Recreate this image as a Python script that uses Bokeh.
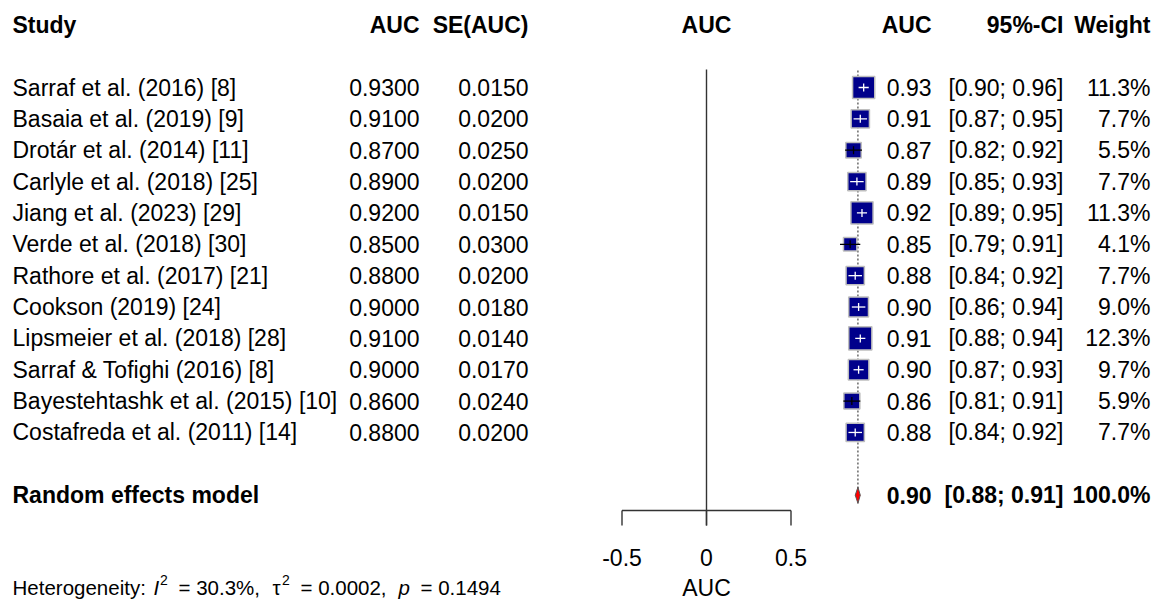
import numpy as np
from bokeh.plotting import figure
from bokeh.models import Range1d
from bokeh.core.properties import value
from bokeh.embed import file_html
from bokeh.resources import INLINE

# ---------------- data ----------------
studies = [
    "Sarraf et al. (2016) [8]",
    "Basaia et al. (2019) [9]",
    "Drotár et al. (2014) [11]",
    "Carlyle et al. (2018) [25]",
    "Jiang et al. (2023) [29]",
    "Verde et al. (2018) [30]",
    "Rathore et al. (2017) [21]",
    "Cookson (2019) [24]",
    "Lipsmeier et al. (2018) [28]",
    "Sarraf & Tofighi (2016) [8]",
    "Bayestehtashk et al. (2015) [10]",
    "Costafreda et al. (2011) [14]",
]
auc = [0.93, 0.91, 0.87, 0.89, 0.92, 0.85, 0.88, 0.90, 0.91, 0.90, 0.86, 0.88]
se_auc = [0.015, 0.020, 0.025, 0.020, 0.015, 0.030, 0.020, 0.018, 0.014, 0.017, 0.024, 0.020]
ci_low = [0.90, 0.87, 0.82, 0.85, 0.89, 0.79, 0.84, 0.86, 0.88, 0.87, 0.81, 0.84]
ci_high = [0.96, 0.95, 0.92, 0.93, 0.95, 0.91, 0.92, 0.94, 0.94, 0.93, 0.91, 0.92]
weights = [11.3, 7.7, 5.5, 7.7, 11.3, 4.1, 7.7, 9.0, 12.3, 9.7, 5.9, 7.7]

pooled_label = "Random effects model"
pooled_auc = 0.896
pooled_low = 0.88
pooled_high = 0.91
pooled_weight = 100.0

x_ticks = [-0.5, 0.0, 0.5]
tick_labels = ["-0.5", "0", "0.5"]
het_i2 = "30.3%"
het_tau2 = "0.0002"
het_p = "0.1494"

# ---------------- layout helpers (page pixels -> data units) ----------------
W, H = 1153, 602
X0, SX = 706.0, 169.0      # page x of AUC 0, pixels per AUC unit
Y0, SY = 87.0, 31.36       # page y of first study row, pixels per row


def px(X):
    return (X - X0) / SX


def py(Y):
    return (Y - Y0) / SY


FONT = value("Liberation Sans")
FS = "23px"

p = figure(width=W, height=H, output_backend="svg", toolbar_location=None,
           x_range=Range1d(px(0), px(W)), y_range=Range1d(py(H), py(0)),
           x_axis_type=None, y_axis_type=None, min_border=0)
p.grid.visible = False
p.outline_line_color = None
p.background_fill_color = "white"
p.border_fill_color = "white"

rows = list(range(len(studies)))
pooled_row = len(studies) + 1
header_row = -2


def col(xs, ys, texts, align="left", size=FS, style="normal", color="black"):
    p.text(x=xs, y=ys, text=texts, text_align=align, text_baseline="middle",
           text_font=FONT, text_font_size=size, text_font_style=style, text_color=color)


n = len(studies)
# headers
col([px(12)], [header_row], ["Study"], style="bold")
col([px(419)], [header_row], ["AUC"], align="right", style="bold")
col([px(528)], [header_row], ["SE(AUC)"], align="right", style="bold")
col([0.0], [header_row], ["AUC"], align="center", style="bold")
col([px(931)], [header_row], ["AUC"], align="right", style="bold")
col([px(1063)], [header_row], ["95%-CI"], align="right", style="bold")
col([px(1150)], [header_row], ["Weight"], align="right", style="bold")

# study columns
col([px(12)] * n, rows, studies)
col([px(419)] * n, rows, [f"{v:.4f}" for v in auc], align="right")
col([px(528)] * n, rows, [f"{v:.4f}" for v in se_auc], align="right")
col([px(931)] * n, rows, [f"{v:.2f}" for v in auc], align="right")
col([px(1063)] * n, rows, [f"[{a:.2f}; {b:.2f}]" for a, b in zip(ci_low, ci_high)], align="right")
col([px(1150)] * n, rows, [f"{w:.1f}%" for w in weights], align="right")

# pooled row
col([px(12)], [pooled_row], [pooled_label], style="bold")
col([px(931)], [pooled_row], [f"{pooled_auc:.2f}"], align="right", style="bold")
col([px(1063)], [pooled_row], [f"[{pooled_low:.2f}; {pooled_high:.2f}]"], align="right", style="bold")
col([px(1150)], [pooled_row], [f"{pooled_weight:.1f}%"], align="right", style="bold")

# reference line at 0
p.segment(x0=[0.0], y0=[py(69)], x1=[0.0], y1=[py(525)], line_color="#333333", line_width=1.4)
# pooled estimate dotted line
p.segment(x0=[pooled_auc], y0=[py(70)], x1=[pooled_auc], y1=[py(503)],
          line_color="#444444", line_width=1.2, line_dash="2 2")

# squares
sizes = [6.6 * np.sqrt(w) for w in weights]
p.scatter(x=auc, y=rows, size=sizes, marker="square", fill_color="#00008B",
          line_color="#BEBEBE", line_width=1.5)

# CI lines (white when inside square, black otherwise)
colors = []
for a, lo, hi, s in zip(auc, ci_low, ci_high, sizes):
    half = s / 2.0 / SX
    colors.append("white" if (a - lo) <= half and (hi - a) <= half else "black")
p.segment(x0=ci_low, y0=rows, x1=ci_high, y1=rows, line_color=colors, line_width=1.3)
tick_h = 4.0 / SY
p.segment(x0=auc, y0=[r - tick_h for r in rows], x1=auc, y1=[r + tick_h for r in rows],
          line_color=colors, line_width=1.3)

# diamond
dh = 8.0 / SY
p.patch(x=[pooled_low, pooled_auc, pooled_high, pooled_auc],
        y=[pooled_row, pooled_row - dh, pooled_row, pooled_row + dh],
        fill_color="red", line_color="#555555", line_width=1)

# x axis
ax_y = py(510)
p.segment(x0=[x_ticks[0]], y0=[ax_y], x1=[x_ticks[-1]], y1=[ax_y], line_color="#333333", line_width=1.4)
p.segment(x0=x_ticks, y0=[ax_y] * 3, x1=x_ticks, y1=[py(525)] * 3, line_color="#333333", line_width=1.4)
col(x_ticks, [py(557)] * 3, tick_labels, align="center")
col([0.0], [py(587)], ["AUC"], align="center")

# heterogeneity footer
FY = py(587)
FSZ = "20.5px"
SUP = "14px"
col([px(12)], [FY], ["Heterogeneity:"], size=FSZ)
col([px(153)], [FY], ["I"], size=FSZ, style="italic")
col([px(159.5)], [FY - 8 / SY], ["2"], size=SUP)
col([px(178)], [FY], [f"= {het_i2},"], size=FSZ)
col([px(272)], [FY], ["τ"], size=FSZ)
col([px(281.5)], [FY - 8 / SY], ["2"], size=SUP)
col([px(300)], [FY], [f"= {het_tau2},"], size=FSZ)
col([px(398)], [FY], ["p"], size=FSZ, style="italic")
col([px(420)], [FY], [f"= {het_p}"], size=FSZ)

open("out.html", "w").write(file_html(p, INLINE))
